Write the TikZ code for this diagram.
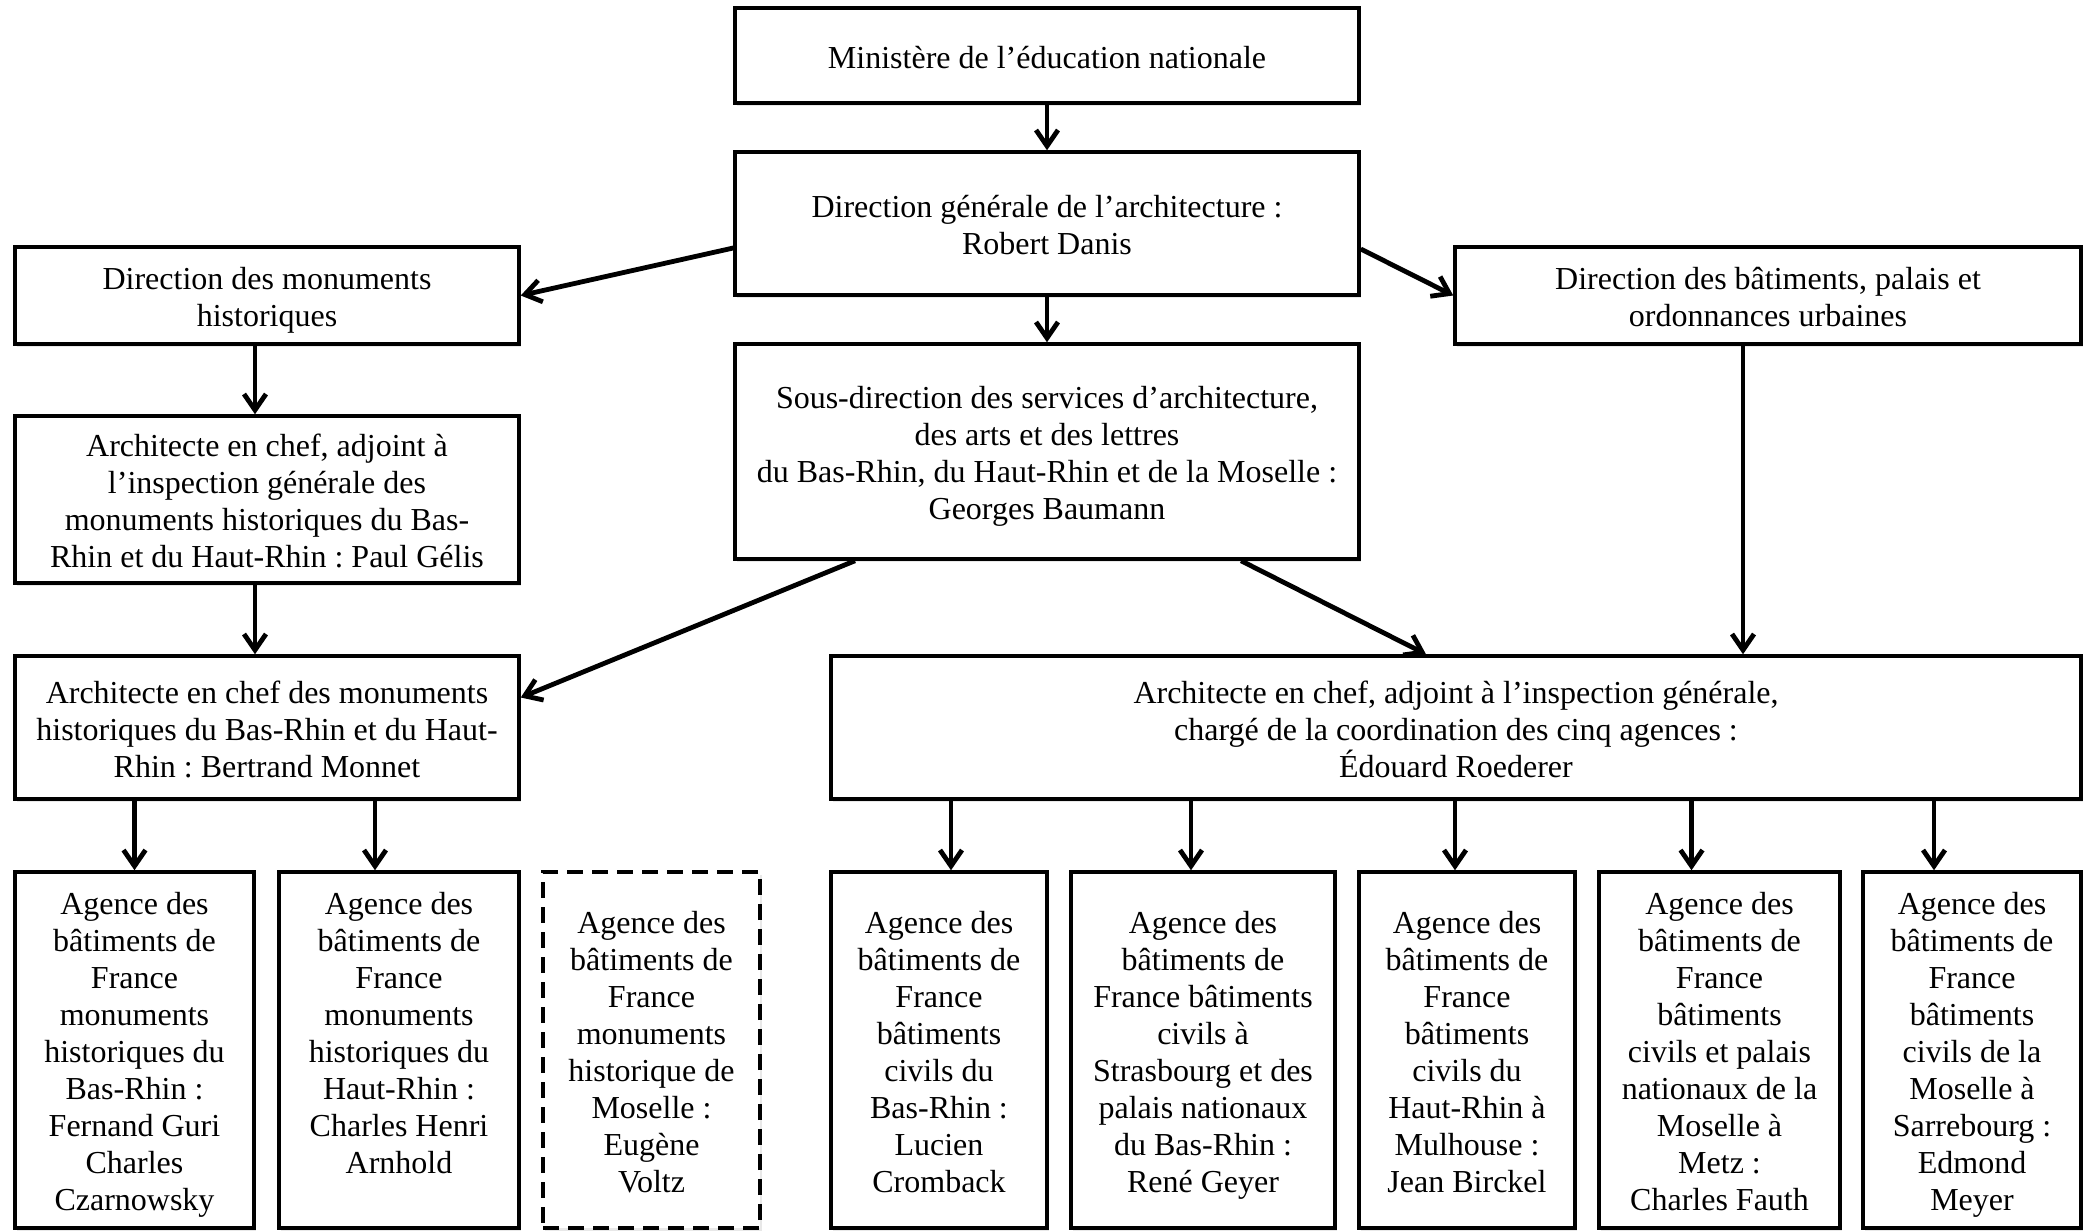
\documentclass[tikz,border=0pt]{standalone}
\usepackage{fontspec}
\setmainfont{Liberation Serif}
\usetikzlibrary{arrows.meta,shadows}
\newcommand\fl{\rule{0pt}{16.3pt}}
\begin{document}
\frenchspacing
\begin{tikzpicture}[x=0.5pt,y=-0.5pt,
  box/.style={draw, line width=1.75pt, fill=white, align=center, inner sep=2pt,
    font=\fontsize{16pt}{18.5pt}\selectfont,
    execute at end node={\rule[-3.5pt]{0pt}{3.5pt}},
    drop shadow={shadow xshift=1pt,shadow yshift=-1.5pt,opacity=0.18}},
  dbox/.style={box, dash pattern=on 8pt off 4.5pt},
  arr/.style={line width=2.4pt, -{Straight Barb[length=8pt,width=11pt]}}]
\fill[white] (0,0) rectangle (2091,1231);
\useasboundingbox (0,0) rectangle (2091,1231);

\node[box, minimum width=312pt, minimum height=47.5pt] (mini) at (1047,55.5) {\fl Ministère de l’éducation nationale};
\node[box, minimum width=312pt, minimum height=71.5pt] (dg) at (1047,223.5) {\fl Direction générale de l’architecture :\\Robert Danis};
\node[box, minimum width=252pt, minimum height=48.5pt] (dmh) at (267,295.5) {\fl Direction des monuments\\historiques};
\node[box, minimum width=313pt, minimum height=48.5pt] (db) at (1768,295.5) {\fl Direction des bâtiments, palais et\\ordonnances urbaines};
\node[box, minimum width=312pt, minimum height=107.5pt] (sd) at (1047,451.5) {\fl Sous-direction des services d’architecture,\\des arts et des lettres\\du Bas-Rhin, du Haut-Rhin et de la Moselle :\\Georges Baumann};
\node[box, minimum width=252pt, minimum height=83.5pt] (gelis) at (267,499.5) {\fl Architecte en chef, adjoint à\\l’inspection générale des\\monuments historiques du Bas-\\Rhin et du Haut-Rhin : Paul Gélis};
\node[box, minimum width=252pt, minimum height=71.5pt] (monnet) at (267,727.5) {\fl Architecte en chef des monuments\\historiques du Bas-Rhin et du Haut-\\Rhin : Bertrand Monnet};
\node[box, minimum width=625pt, minimum height=71.5pt] (roed) at (1456,727.5) {\fl Architecte en chef, adjoint à l’inspection générale,\\chargé de la coordination des cinq agences :\\Édouard Roederer};

\node[box, minimum width=119.5pt, minimum height=178pt] (b1) at (134.5,1050) {\fl Agence des\\bâtiments de\\France\\monuments\\historiques du\\Bas-Rhin :\\Fernand Guri\\Charles\\Czarnowsky};
\node[box, minimum width=120pt, minimum height=178pt] (b2) at (399,1050) {\fl Agence des\\bâtiments de\\France\\monuments\\historiques du\\Haut-Rhin :\\Charles Henri\\Arnhold\\\rule[-3.5pt]{0pt}{3.5pt}};
\node[dbox, minimum width=108.5pt, minimum height=178pt] (b3) at (651.5,1050) {\fl Agence des\\bâtiments de\\France\\monuments\\historique de\\Moselle :\\Eugène\\Voltz};
\node[box, minimum width=108pt, minimum height=178pt] (b4) at (939,1050) {\fl Agence des\\bâtiments de\\France\\bâtiments\\civils du\\Bas-Rhin :\\Lucien\\Cromback};
\node[box, minimum width=132pt, minimum height=178pt] (b5) at (1203,1050) {\fl Agence des\\bâtiments de\\France bâtiments\\civils à\\Strasbourg et des\\palais nationaux\\du Bas-Rhin :\\René Geyer};
\node[box, minimum width=108pt, minimum height=178pt] (b6) at (1467,1050) {\fl Agence des\\bâtiments de\\France\\bâtiments\\civils du\\Haut-Rhin à\\Mulhouse :\\Jean Birckel};
\node[box, minimum width=120.5pt, minimum height=178pt] (b7) at (1719.5,1050) {\fl Agence des\\bâtiments de\\France\\bâtiments\\civils et palais\\nationaux de la\\Moselle à\\Metz :\\Charles Fauth};
\node[box, minimum width=109pt, minimum height=178pt] (b8) at (1972,1050) {\fl Agence des\\bâtiments de\\France\\bâtiments\\civils de la\\Moselle à\\Sarrebourg :\\Edmond\\Meyer};

\coordinate (b2a) at ([xshift=-12pt]b2.north);
\coordinate (b4a) at ([xshift=6pt]b4.north);
\coordinate (b5a) at ([xshift=-6pt]b5.north);
\coordinate (b6a) at ([xshift=-6pt]b6.north);
\coordinate (b7a) at ([xshift=-14pt]b7.north);
\coordinate (b8a) at ([xshift=-19pt]b8.north);
\coordinate (dba) at ([xshift=-12.5pt]db.south);

\draw[arr] (mini) -- (dg);
\draw[arr] ([yshift=-12.25pt]dg.west) -- (dmh.east);
\draw[arr] ([yshift=-12.75pt]dg.east) -- (db.west);
\draw[arr] (dg) -- (sd);
\draw[arr] ([xshift=-6pt]dmh.south) -- ([xshift=-6pt]gelis.north);
\draw[arr] ([xshift=-6pt]gelis.south) -- ([xshift=-6pt]monnet.north);
\draw[arr] ([xshift=-96pt]sd.south) -- ([yshift=15pt]monnet.east);
\draw[arr] ([xshift=97pt]sd.south) -- ([xshift=-15pt]roed.north);
\draw[arr] (dba) -- (dba |- roed.north);

\draw[arr] (b1.north |- monnet.south) -- (b1.north);
\draw[arr] (b2a |- monnet.south) -- (b2a);
\draw[arr] (b4a |- roed.south) -- (b4a);
\draw[arr] (b5a |- roed.south) -- (b5a);
\draw[arr] (b6a |- roed.south) -- (b6a);
\draw[arr] (b7a |- roed.south) -- (b7a);
\draw[arr] (b8a |- roed.south) -- (b8a);
\end{tikzpicture}
\end{document}
